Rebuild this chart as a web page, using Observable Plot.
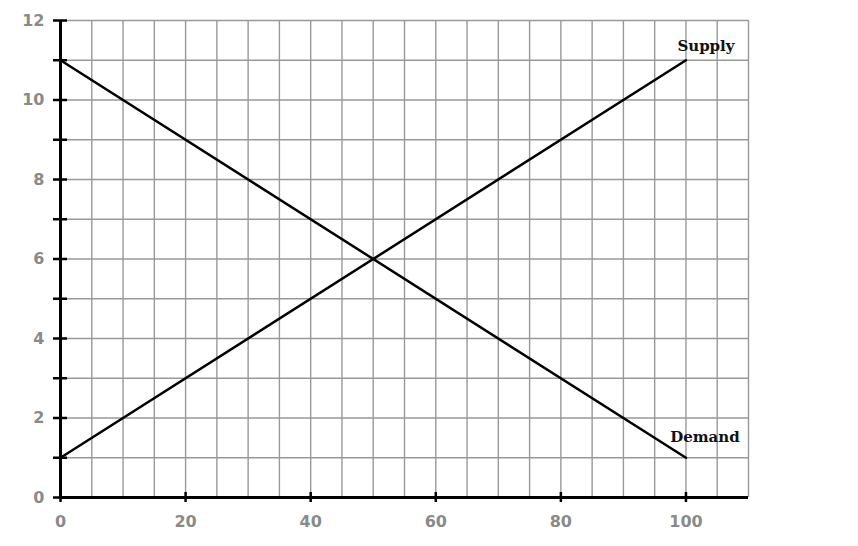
<!DOCTYPE html>
<html>
<head>
<meta charset="utf-8">
<script src="https://cdn.jsdelivr.net/npm/d3@7"></script>
<script src="https://cdn.jsdelivr.net/npm/@observablehq/plot@0.6"></script>
<style>
  html, body { margin: 0; padding: 0; background: #fff; }
</style>
</head>
<body>
<div id="chart"></div>
<script>
// Data
const quantity = [0, 100];
const supplyPrice = [1, 11];
const demandPrice = [11, 1];
const xTickLabels = [0, 20, 40, 60, 80, 100];
const yTickLabels = [0, 2, 4, 6, 8, 10, 12];
const yMinorTicks = [0, 1, 2, 3, 4, 5, 6, 7, 8, 9, 10, 11, 12];
const xGrid = [0, 5, 10, 15, 20, 25, 30, 35, 40, 45, 50, 55, 60, 65, 70, 75, 80, 85, 90, 95, 100, 105, 110];
const yGrid = [0, 1, 2, 3, 4, 5, 6, 7, 8, 9, 10, 11, 12];
const supplyLabel = [{name: "Supply", q: 100, p: 11}];
const demandLabel = [{name: "Demand", q: 100, p: 1}];

const supply = quantity.map((q, i) => ({q, p: supplyPrice[i]}));
const demand = quantity.map((q, i) => ({q, p: demandPrice[i]}));

const labelStyle = {x: "q", y: "p", text: "name", fontSize: 15, fontWeight: "bold", fontFamily: "DejaVu Serif", fill: "#111"};

const chart = Plot.plot({
  width: 858,
  height: 546,
  marginLeft: 60,
  marginRight: 110,
  marginTop: 20,
  marginBottom: 49,
  style: {background: "#fff"},
  x: {domain: [0, 110], axis: null},
  y: {domain: [0, 12], axis: null},
  marks: [
    Plot.gridX(xGrid, {stroke: "#999", strokeOpacity: 1, strokeWidth: 1.4}),
    Plot.gridY(yGrid, {stroke: "#999", strokeOpacity: 1, strokeWidth: 1.4}),
    // axis lines
    Plot.ruleX([0], {y1: 0, y2: 12, stroke: "#000", strokeWidth: 3}),
    Plot.ruleY([0], {x1: 0, x2: 110, stroke: "#000", strokeWidth: 3}),
    // crossing ticks on y
    Plot.axisY(yMinorTicks, {anchor: "left", label: null, tickSize: 14, dx: 7, tickFormat: () => "", stroke: "#000", strokeWidth: 2.5}),
    // crossing ticks on x
    Plot.axisX(xTickLabels, {anchor: "bottom", label: null, tickSize: 10, dy: -5, tickFormat: () => "", stroke: "#000", strokeWidth: 2.5}),
    // tick labels
    Plot.axisY(yTickLabels, {anchor: "left", label: null, tickSize: 0, tickPadding: 16, fontSize: 16, fontWeight: "bold", fontFamily: "DejaVu Sans", fill: "#8a8a8a"}),
    Plot.axisX(xTickLabels, {anchor: "bottom", label: null, tickSize: 0, tickPadding: 18, fontSize: 16, fontWeight: "bold", fontFamily: "DejaVu Sans", fill: "#8a8a8a"}),
    // curves
    Plot.line(supply, {x: "q", y: "p", stroke: "#000", strokeWidth: 2.5}),
    Plot.line(demand, {x: "q", y: "p", stroke: "#000", strokeWidth: 2.5}),
    Plot.text(supplyLabel, {...labelStyle, dx: 20, dy: -14}),
    Plot.text(demandLabel, {...labelStyle, dx: 19, dy: -21})
  ]
});
document.getElementById("chart").appendChild(chart);
</script>
</body>
</html>
